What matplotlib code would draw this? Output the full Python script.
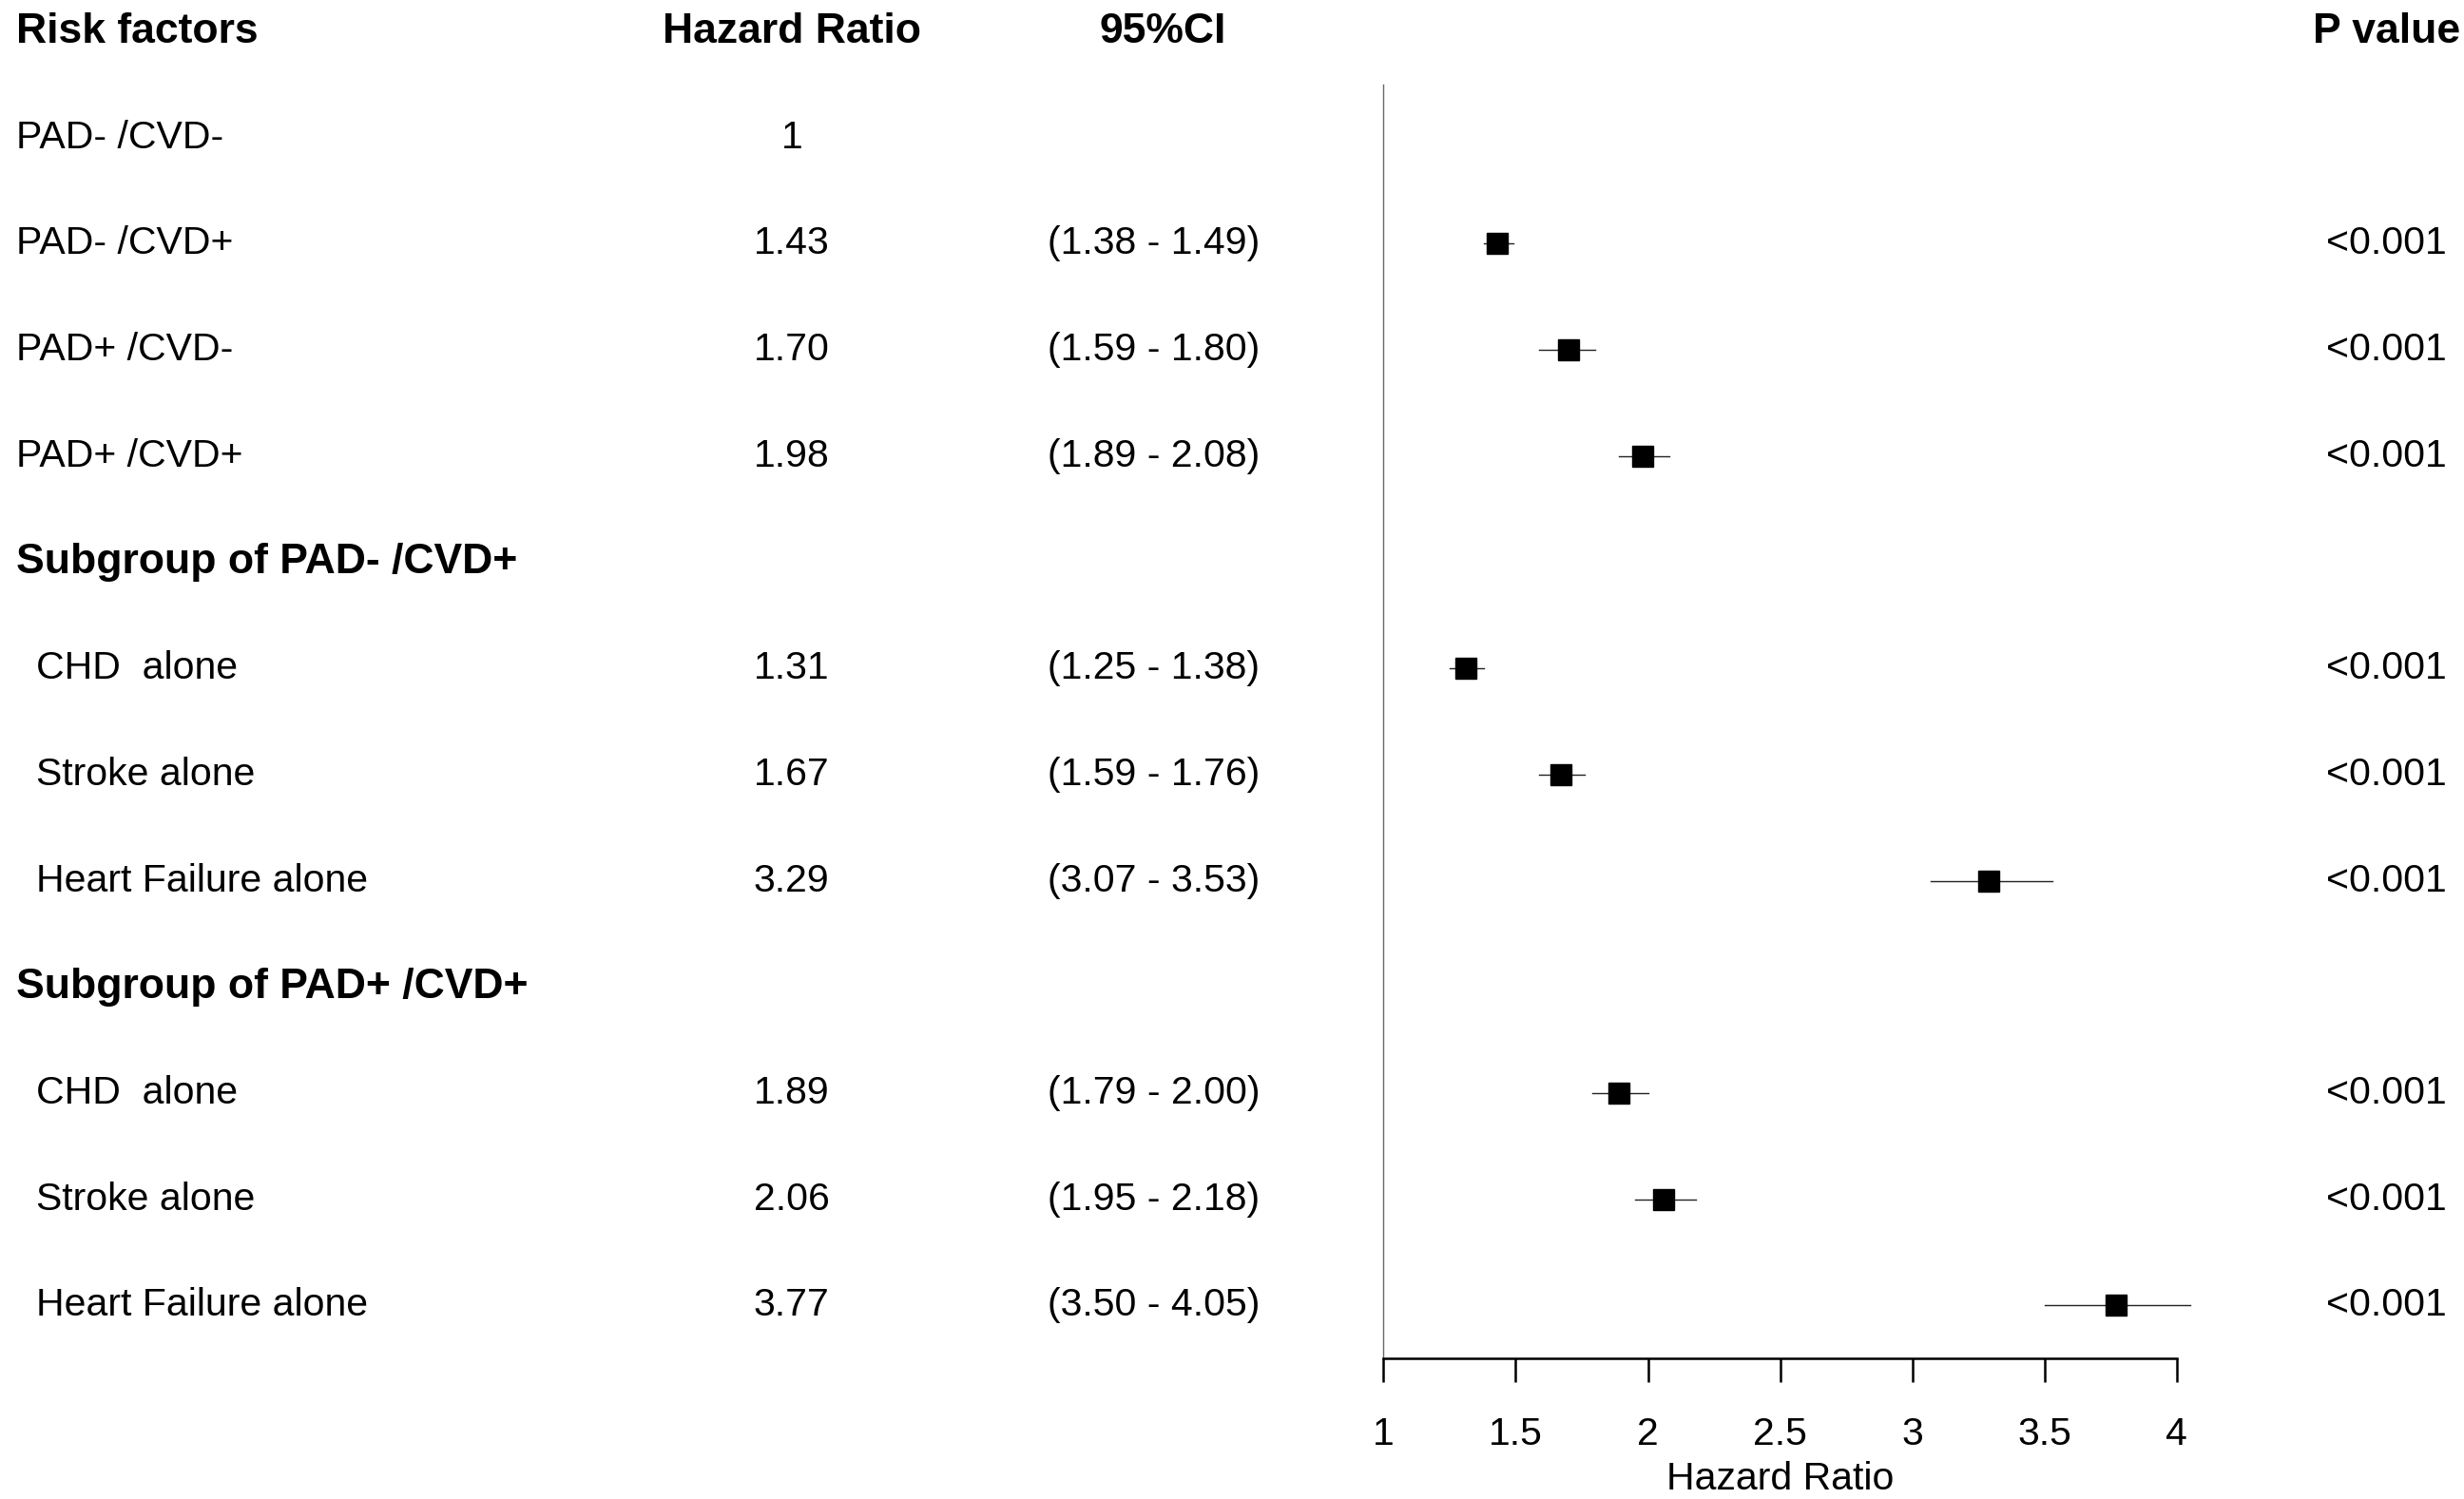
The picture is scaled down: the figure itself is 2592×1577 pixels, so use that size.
import matplotlib
matplotlib.use("Agg")
import matplotlib.pyplot as plt
import matplotlib.transforms as mtransforms

plt.rcParams['font.family'] = ['Liberation Sans', 'DejaVu Sans']

# table rows (None = no value)
labels = ["PAD- /CVD-", "PAD- /CVD+", "PAD+ /CVD-", "PAD+ /CVD+",
          "Subgroup of PAD- /CVD+", "CHD  alone", "Stroke alone", "Heart Failure alone",
          "Subgroup of PAD+ /CVD+", "CHD  alone", "Stroke alone", "Heart Failure alone"]
is_header = [False, False, False, False, True, False, False, False, True, False, False, False]
indented = [False, False, False, False, False, True, True, True, False, True, True, True]
hr = [1, 1.43, 1.70, 1.98, None, 1.31, 1.67, 3.29, None, 1.89, 2.06, 3.77]
ci_low = [None, 1.38, 1.59, 1.89, None, 1.25, 1.59, 3.07, None, 1.79, 1.95, 3.50]
ci_high = [None, 1.49, 1.80, 2.08, None, 1.38, 1.76, 3.53, None, 2.00, 2.18, 4.05]
pvals = [None, "<0.001", "<0.001", "<0.001", None, "<0.001", "<0.001", "<0.001",
         None, "<0.001", "<0.001", "<0.001"]
hr_text = ["1", "1.43", "1.70", "1.98", "", "1.31", "1.67", "3.29", "", "1.89", "2.06", "3.77"]
xticks = [1, 1.5, 2, 2.5, 3, 3.5, 4]

fig = plt.figure(figsize=(25.92, 15.77), dpi=100)
ax = fig.add_axes([0.5615, 0.0938, 0.3219, 0.8498])

n = len(labels)
rows = list(range(1, n + 1))

for y, h, lo, hi in zip(rows, hr, ci_low, ci_high):
    if lo is None:
        continue
    ax.plot([lo, hi], [y, y], color='#222222', lw=1.0, clip_on=False, zorder=2)
    ax.plot([h], [y], marker='s', ms=15.5, color='black', clip_on=False, zorder=3)

ax.set_xlim(1, 4)
ax.set_ylim(n + 0.5, 0.5)
ax.set_yticks([])
ax.set_xticks(xticks)
ax.set_xticklabels([f"{t:g}" for t in xticks])
ax.tick_params(axis='x', length=18, width=1.8, pad=26, labelsize=29.5, direction='out')
for s in ['top', 'right']:
    ax.spines[s].set_visible(False)
ax.spines['left'].set_color('#666666')
ax.spines['left'].set_linewidth(1.0)
ax.spines['bottom'].set_linewidth(1.8)
ax.spines['bottom'].set_bounds(1, 4)
ax.set_xlabel("Hazard Ratio", fontsize=29.5, labelpad=6)

tr = mtransforms.blended_transform_factory(fig.transFigure, ax.transData)
fs = 29.5
hfs = 32

# column headers (row 0)
ax.text(0.0064, 0, "Risk factors", transform=tr, ha='left', va='center', fontsize=hfs, fontweight='bold')
ax.text(0.3213, 0, "Hazard Ratio", transform=tr, ha='center', va='center', fontsize=hfs, fontweight='bold')
ax.text(0.4718, 0, "95%CI", transform=tr, ha='center', va='center', fontsize=hfs, fontweight='bold')
ax.text(0.9685, 0, "P value", transform=tr, ha='center', va='center', fontsize=hfs, fontweight='bold')

for y, lab, hd, ind, ht, lo, hi, p in zip(rows, labels, is_header, indented, hr_text, ci_low, ci_high, pvals):
    x0 = 0.0147 if ind else 0.0064
    if hd:
        ax.text(x0, y, lab, transform=tr, ha='left', va='center', fontsize=hfs, fontweight='bold')
        continue
    ax.text(x0, y, lab, transform=tr, ha='left', va='center', fontsize=fs)
    ax.text(0.3213, y, ht, transform=tr, ha='center', va='center', fontsize=fs)
    if lo is not None:
        ax.text(0.4683, y, f"({lo:.2f} - {hi:.2f})", transform=tr, ha='center', va='center', fontsize=fs)
    if p is not None:
        ax.text(0.9685, y, p, transform=tr, ha='center', va='center', fontsize=fs)

fig.savefig("out.png", dpi=100)
